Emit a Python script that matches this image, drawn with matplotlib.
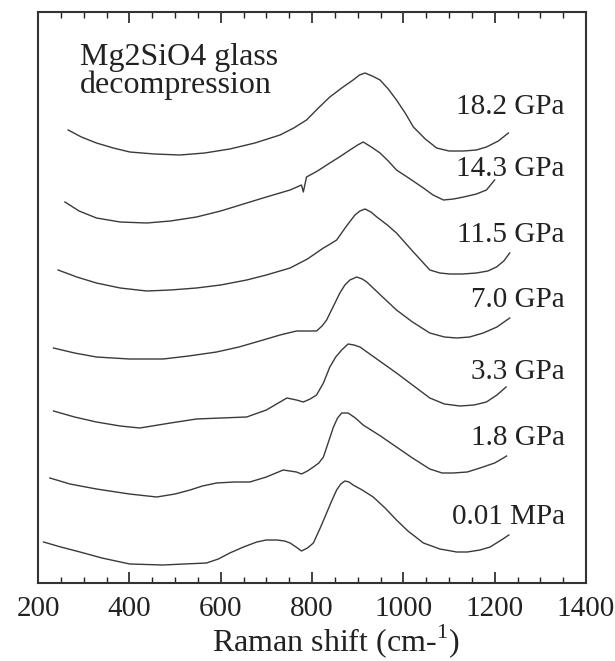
import numpy as np
import matplotlib
matplotlib.use('Agg')
import matplotlib.pyplot as plt
from matplotlib.ticker import MultipleLocator

# Raman spectra, stacked (intensity in arbitrary offset units)
p001_x = [212, 250, 292, 340, 401, 474, 520, 569, 595, 620, 650, 679, 700, 723, 740, 752, 765, 777, 790, 803,
          818, 832, 843, 854, 863, 872, 881, 890, 910, 934, 960, 985, 1010, 1044, 1080, 1117, 1140, 1168, 1190,
          1204, 1218, 1231]
p001_y = [41, 36, 31, 25, 19, 18, 19, 20, 24, 30, 36, 41, 43, 43, 42, 40, 36, 32, 35, 40,
          55, 70, 82, 93, 99, 102, 101, 98, 93, 86, 75, 63, 52, 40, 34, 31, 31, 33, 36,
          40, 44, 48]

p18_x = [226, 270, 328, 400, 460, 500, 533, 560, 591, 630, 664, 700, 737, 766, 777, 790, 803, 815, 825, 836,
         847, 856, 865, 879, 895, 912, 950, 985, 1020, 1058, 1085, 1109, 1140, 1168, 1200, 1219, 1226]
p18_y = [105, 99, 94, 89, 86, 89, 93, 97, 100, 101, 101, 106, 113, 111, 109, 112, 116, 120, 126, 141,
         156, 165, 170, 170, 165, 158, 147, 136, 125, 114, 110, 110, 111, 115, 120, 125, 127]

p33_x = [234, 280, 328, 380, 423, 490, 547, 600, 657, 700, 745, 766, 781, 796, 810, 825, 839, 852, 865, 879,
         892, 905, 945, 985, 1020, 1058, 1090, 1124, 1155, 1182, 1205, 1225]
p33_y = [172, 166, 161, 157, 155, 160, 164, 165, 166, 173, 185, 183, 181, 184, 188, 200, 216, 226, 233, 239,
         238, 236, 223, 210, 198, 185, 179, 177, 178, 181, 188, 196]

p70_x = [234, 280, 328, 400, 474, 530, 591, 640, 693, 730, 766, 790, 810, 822, 832, 846, 861, 872, 883, 898,
         910, 920, 950, 985, 1020, 1058, 1090, 1117, 1145, 1175, 1205, 1233]
p70_y = [235, 230, 226, 224, 224, 227, 231, 236, 243, 248, 252, 252, 252, 257, 263, 276, 290, 298, 303, 306,
         304, 301, 288, 273, 261, 250, 246, 245, 246, 250, 256, 265]

p115_x = [244, 285, 328, 380, 438, 490, 547, 600, 657, 700, 752, 790, 825, 840, 854, 874, 894, 905, 916, 929,
          942, 965, 985, 1020, 1058, 1080, 1102, 1130, 1160, 1185, 1204, 1220, 1233]
p115_y = [313, 306, 300, 295, 292, 293, 295, 298, 303, 308, 315, 324, 335, 339, 343, 356, 368, 372, 374, 371,
          366, 358, 350, 332, 313, 310, 309, 309, 310, 312, 316, 322, 330]

p143_x = [259, 290, 328, 380, 438, 490, 547, 600, 657, 700, 752, 777, 781, 788, 812, 839, 860, 883, 900, 912,
          930, 949, 967, 985, 1015, 1044, 1065, 1088, 1110, 1132, 1160, 1182, 1200]
p143_y = [381, 372, 365, 361, 360, 362, 366, 372, 380, 386, 393, 398, 391, 406, 412, 420, 426, 433, 438, 441,
          436, 430, 422, 413, 404, 395, 388, 383, 384, 386, 389, 393, 403]

p182_x = [266, 295, 328, 365, 401, 455, 511, 565, 620, 675, 730, 760, 788, 814, 839, 865, 890, 904, 916, 932,
          949, 967, 985, 1004, 1022, 1048, 1073, 1100, 1132, 1160, 1182, 1208, 1230]
p182_y = [453, 446, 440, 435, 431, 429, 428, 430, 434, 440, 448, 455, 463, 475, 486, 495, 503, 508, 510, 507,
          503, 494, 483, 470, 456, 444, 435, 432, 432, 433, 436, 442, 450]

labels = ['0.01 MPa', '1.8 GPa', '3.3 GPa', '7.0 GPa', '11.5 GPa', '14.3 GPa', '18.2 GPa']
label_y = [66, 145, 211, 283, 348, 414, 476]

spectra = [(p001_x, p001_y), (p18_x, p18_y), (p33_x, p33_y), (p70_x, p70_y),
           (p115_x, p115_y), (p143_x, p143_y), (p182_x, p182_y)]

plt.rcParams['font.family'] = ['Liberation Serif', 'DejaVu Serif']
plt.rcParams['mathtext.fontset'] = 'custom'
plt.rcParams['mathtext.rm'] = 'Liberation Serif'

fig = plt.figure(figsize=(6.15, 6.61), dpi=100)
ax = fig.add_axes([38/615, 78/661, 548/615, 571/661])

for sx, sy in spectra:
    ax.plot(sx, sy, color='#3a3a3a', lw=1.0)

for lab, ly in zip(labels, label_y):
    ax.text(1354, ly, lab, ha='right', va='center', fontsize=21, color='#222222')

ax.text(292, 540, 'Mg2SiO4 glass\ndecompression', ha='left', va='top',
        fontsize=23, color='#222222', linespacing=0.95)

ax.set_xlim(200, 1400)
ax.set_ylim(0, 571)
ax.xaxis.set_major_locator(MultipleLocator(200))
ax.xaxis.set_minor_locator(MultipleLocator(50))
ax.tick_params(axis='x', which='both', direction='in', top=True, bottom=True,
               labelsize=21, pad=9, colors='#222222')
ax.tick_params(axis='x', which='major', length=8, width=1.2)
ax.tick_params(axis='x', which='minor', length=4, width=1.0)
ax.set_yticks([])
for sp in ax.spines.values():
    sp.set_linewidth(1.5)
    sp.set_color('#333333')

ax.set_xlabel('Raman shift (cm-$^{\\mathregular{1}}$)', fontsize=23, color='#222222')
ax.xaxis.set_label_coords(0.544, -0.068)

plt.savefig('out.png', dpi=100)
